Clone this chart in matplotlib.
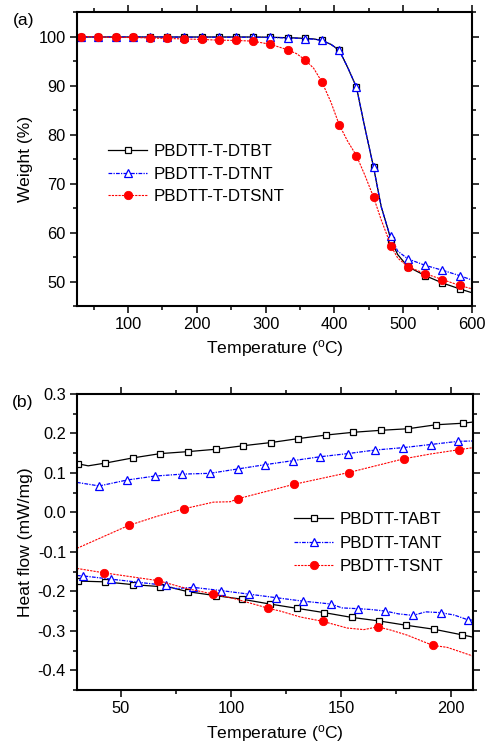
import matplotlib
matplotlib.use("Agg")
import matplotlib.pyplot as plt
from matplotlib.ticker import MultipleLocator, FormatStrFormatter

plt.rcParams['font.family'] = ['Liberation Sans', 'DejaVu Sans']
plt.rcParams['mathtext.fontset'] = 'custom'
plt.rcParams['mathtext.rm'] = 'Liberation Sans'
plt.rcParams['mathtext.default'] = 'regular'
plt.rcParams['axes.unicode_minus'] = False

# ---------------- (a) TGA data ----------------
tga_temp = [26, 32, 57, 82, 107, 132, 157, 182, 207, 232, 257, 282, 307, 332, 345,
            357, 370, 382, 395, 407, 419, 432, 444, 457, 468, 478, 482, 492, 507,
            532, 557, 582, 600]
tga_marker_temp = [32, 57, 82, 107, 132, 157, 182, 207, 232, 257, 282, 307, 332, 357,
                   382, 407, 432, 457, 482, 507, 532, 557, 582]
w_dtbt = [99.9, 99.9, 99.9, 99.9, 99.9, 99.9, 99.9, 99.9, 99.9, 99.9, 99.9, 99.9, 99.85,
          99.75, 99.7, 99.6, 99.5, 99.2, 98.4, 97.2, 93.8, 89.7, 81.6, 73.3, 65.3, 60.6,
          58.5, 55.5, 53.0, 51.2, 49.7, 48.5, 47.7]
w_dtnt = [99.9, 99.9, 99.9, 99.9, 99.9, 99.9, 99.9, 99.85, 99.85, 99.85, 99.85, 99.85, 99.8,
          99.7, 99.65, 99.55, 99.45, 99.2, 98.4, 97.2, 93.8, 89.7, 81.6, 73.3, 65.3, 60.6,
          59.2, 56.2, 54.6, 53.3, 52.3, 51.2, 50.3]
w_dtsnt = [99.95, 100.0, 99.9, 99.8, 99.8, 99.7, 99.6, 99.5, 99.4, 99.25, 99.2, 99.05, 98.4,
           97.3, 96.5, 95.3, 93.5, 90.7, 86.6, 82.0, 78.7, 75.7, 71.8, 67.2, 62.6, 58.9,
           57.3, 54.8, 53.0, 51.6, 50.4, 49.2, 48.5]
tga_labels = ['PBDTT-T-DTBT', 'PBDTT-T-DTNT', 'PBDTT-T-DTSNT']

# ---------------- (b) DSC data ----------------
tabt_up_t = [30.6, 35.1, 42.9, 55.3, 67.9, 80.5, 93.1, 105.6, 118.2, 130.6, 143.2, 155.6,
             168.1, 180.5, 193.1, 205.6, 210]
tabt_up_hf = [0.123, 0.118, 0.125, 0.138, 0.149, 0.154, 0.160, 0.169, 0.177, 0.187, 0.196,
              0.203, 0.208, 0.212, 0.222, 0.226, 0.229]
tabt_up_mk = [30.6, 42.9, 55.3, 67.9, 80.5, 93.1, 105.6, 118.2, 130.6, 143.2, 155.6,
              168.1, 180.5, 193.1, 205.6]
tabt_dn_t = [30.6, 42.9, 55.3, 67.9, 72.5, 80.5, 93.1, 105.1, 117.5, 129.9, 142.4, 154.8,
             167.3, 179.7, 192.2, 204.8, 210]
tabt_dn_hf = [-0.174, -0.176, -0.183, -0.188, -0.190, -0.201, -0.211, -0.220, -0.232,
              -0.243, -0.254, -0.266, -0.275, -0.286, -0.296, -0.310, -0.316]
tabt_dn_mk = [30.6, 42.9, 55.3, 67.9, 80.5, 93.1, 105.1, 117.5, 129.9, 142.4, 154.8,
              167.3, 179.7, 192.2, 204.8]

tant_up_t = [30, 40.1, 52.7, 65.3, 77.8, 90.4, 103.0, 115.6, 128.0, 140.5, 153.1, 165.5,
             178.1, 190.7, 203.1, 210]
tant_up_hf = [0.076, 0.067, 0.082, 0.092, 0.097, 0.099, 0.110, 0.121, 0.131, 0.141, 0.149,
              0.158, 0.164, 0.172, 0.180, 0.181]
tant_up_mk = [40.1, 52.7, 65.3, 77.8, 90.4, 103.0, 115.6, 128.0, 140.5, 153.1, 165.5,
              178.1, 190.7, 203.1]
tant_dn_t = [30, 32.8, 45.3, 57.9, 70.3, 74.6, 82.9, 95.4, 108.0, 120.4, 132.9, 145.3, 150.5,
             157.8, 163.5, 170.2, 176.0, 182.7, 188.5, 195.3, 201.4, 207.6, 210]
tant_dn_hf = [-0.160, -0.161, -0.169, -0.177, -0.185, -0.193, -0.190, -0.198, -0.207, -0.216,
              -0.225, -0.232, -0.242, -0.244, -0.246, -0.250, -0.257, -0.261, -0.252, -0.254,
              -0.260, -0.272, -0.273]
tant_dn_mk = [32.8, 45.3, 57.9, 70.3, 82.9, 95.4, 108.0, 120.4, 132.9, 145.3, 157.8, 170.2,
              182.7, 195.3, 207.6]

tsnt_up_t = [30, 53.5, 66.3, 78.5, 92.0, 99.6, 103.4, 128.5, 153.5, 178.7, 190.7, 203.8, 210]
tsnt_up_hf = [-0.091, -0.033, -0.010, 0.009, 0.026, 0.027, 0.035, 0.071, 0.101, 0.136, 0.148,
              0.159, 0.164]
tsnt_up_mk = [53.5, 78.5, 103.4, 128.5, 153.5, 178.7, 203.8]
tsnt_dn_t = [30, 42.1, 67.0, 79.9, 92.0, 101.2, 113.3, 116.8, 122.4, 131.5, 141.7, 152.8,
             160.4, 166.7, 172.5, 180.1, 187.7, 191.8, 198.3, 210]
tsnt_dn_hf = [-0.142, -0.153, -0.173, -0.193, -0.207, -0.218, -0.237, -0.243, -0.250, -0.265,
              -0.276, -0.293, -0.297, -0.290, -0.298, -0.311, -0.328, -0.337, -0.342, -0.364]
tsnt_dn_mk = [42.1, 67.0, 92.0, 116.8, 141.7, 166.7, 191.8]
dsc_labels = ['PBDTT-TABT', 'PBDTT-TANT', 'PBDTT-TSNT']


def idx(ts, mk):
    return [i for i, t in enumerate(ts) if t in mk]


styles = [
    dict(color='black', linestyle='-', marker='s', markersize=5, markerfacecolor='white',
         markeredgecolor='black', markeredgewidth=0.9, linewidth=0.9),
    dict(color='blue', linestyle=(0, (3, 1, 1, 1)), marker='^', markersize=6,
         markerfacecolor='white', markeredgecolor='blue', markeredgewidth=0.9, linewidth=0.9),
    dict(color='red', linestyle=(0, (2, 1)), marker='o', markersize=6, markerfacecolor='red',
         markeredgecolor='red', markeredgewidth=0.6, linewidth=0.8),
]

LBL = 12.6
TCK = 11.8
LEG = 12.2

fig = plt.figure(figsize=(4.88, 7.44), dpi=100)
axa = fig.add_axes([77/488, 1 - 306/744, 395/488, 294/744])
axb = fig.add_axes([77/488, 1 - 690/744, 396/488, 296/744])

tga_series = [w_dtbt, w_dtnt, w_dtsnt]
mi = idx(tga_temp, tga_marker_temp)
for w, lab, st in zip(tga_series, tga_labels, styles):
    axa.plot(tga_temp, w, label=lab, markevery=mi, **st)

axa.set_xlim(26, 600)
axa.set_ylim(45, 105)
axa.xaxis.set_major_locator(MultipleLocator(100))
axa.xaxis.set_minor_locator(MultipleLocator(50))
axa.yaxis.set_major_locator(MultipleLocator(10))
axa.yaxis.set_minor_locator(MultipleLocator(5))
axa.set_xlabel('Temperature ($^{o}$C)', fontsize=LBL)
axa.set_ylabel('Weight (%)', fontsize=LBL)
axa.legend(loc='upper left', bbox_to_anchor=(0.04, 0.603), frameon=False,
           fontsize=LEG, handlelength=2.3, handletextpad=0.4, labelspacing=0.45)

dsc_branches = [
    [(tabt_up_t, tabt_up_hf, tabt_up_mk), (tabt_dn_t, tabt_dn_hf, tabt_dn_mk)],
    [(tant_up_t, tant_up_hf, tant_up_mk), (tant_dn_t, tant_dn_hf, tant_dn_mk)],
    [(tsnt_up_t, tsnt_up_hf, tsnt_up_mk), (tsnt_dn_t, tsnt_dn_hf, tsnt_dn_mk)],
]
for branches, lab, st in zip(dsc_branches, dsc_labels, styles):
    for k, (t, h, mk) in enumerate(branches):
        axb.plot(t, h, label=lab if k == 0 else None, markevery=idx(t, mk), **st)

axb.set_xlim(30, 210)
axb.set_ylim(-0.45, 0.3)
axb.xaxis.set_major_locator(MultipleLocator(50))
axb.xaxis.set_minor_locator(MultipleLocator(25))
axb.yaxis.set_major_locator(MultipleLocator(0.1))
axb.yaxis.set_minor_locator(MultipleLocator(0.05))
axb.yaxis.set_major_formatter(FormatStrFormatter('%.1f'))
axb.set_xlabel('Temperature ($^{o}$C)', fontsize=LBL)
axb.set_ylabel('Heat flow (mW/mg)', fontsize=LBL)
axb.legend(loc='upper left', bbox_to_anchor=(0.51, 0.652), frameon=False,
           fontsize=LEG, handlelength=2.3, handletextpad=0.4, labelspacing=0.5)

for ax in (axa, axb):
    for sp in ax.spines.values():
        sp.set_linewidth(1.5)
    ax.tick_params(which='both', direction='out', top=True, right=True, width=1.1,
                   labelsize=TCK, pad=3)
    ax.tick_params(which='major', length=5)
    ax.tick_params(which='minor', length=3)
    ax.yaxis.set_label_coords(-0.112, 0.5)
    ax.xaxis.set_label_coords(0.5, -0.11)

fig.text(0.026, 1 - 13/744, '(a)', fontsize=LBL, va='top', ha='left')
fig.text(0.024, 1 - 395/744, '(b)', fontsize=LBL, va='top', ha='left')

fig.savefig('out.png', dpi=100)
